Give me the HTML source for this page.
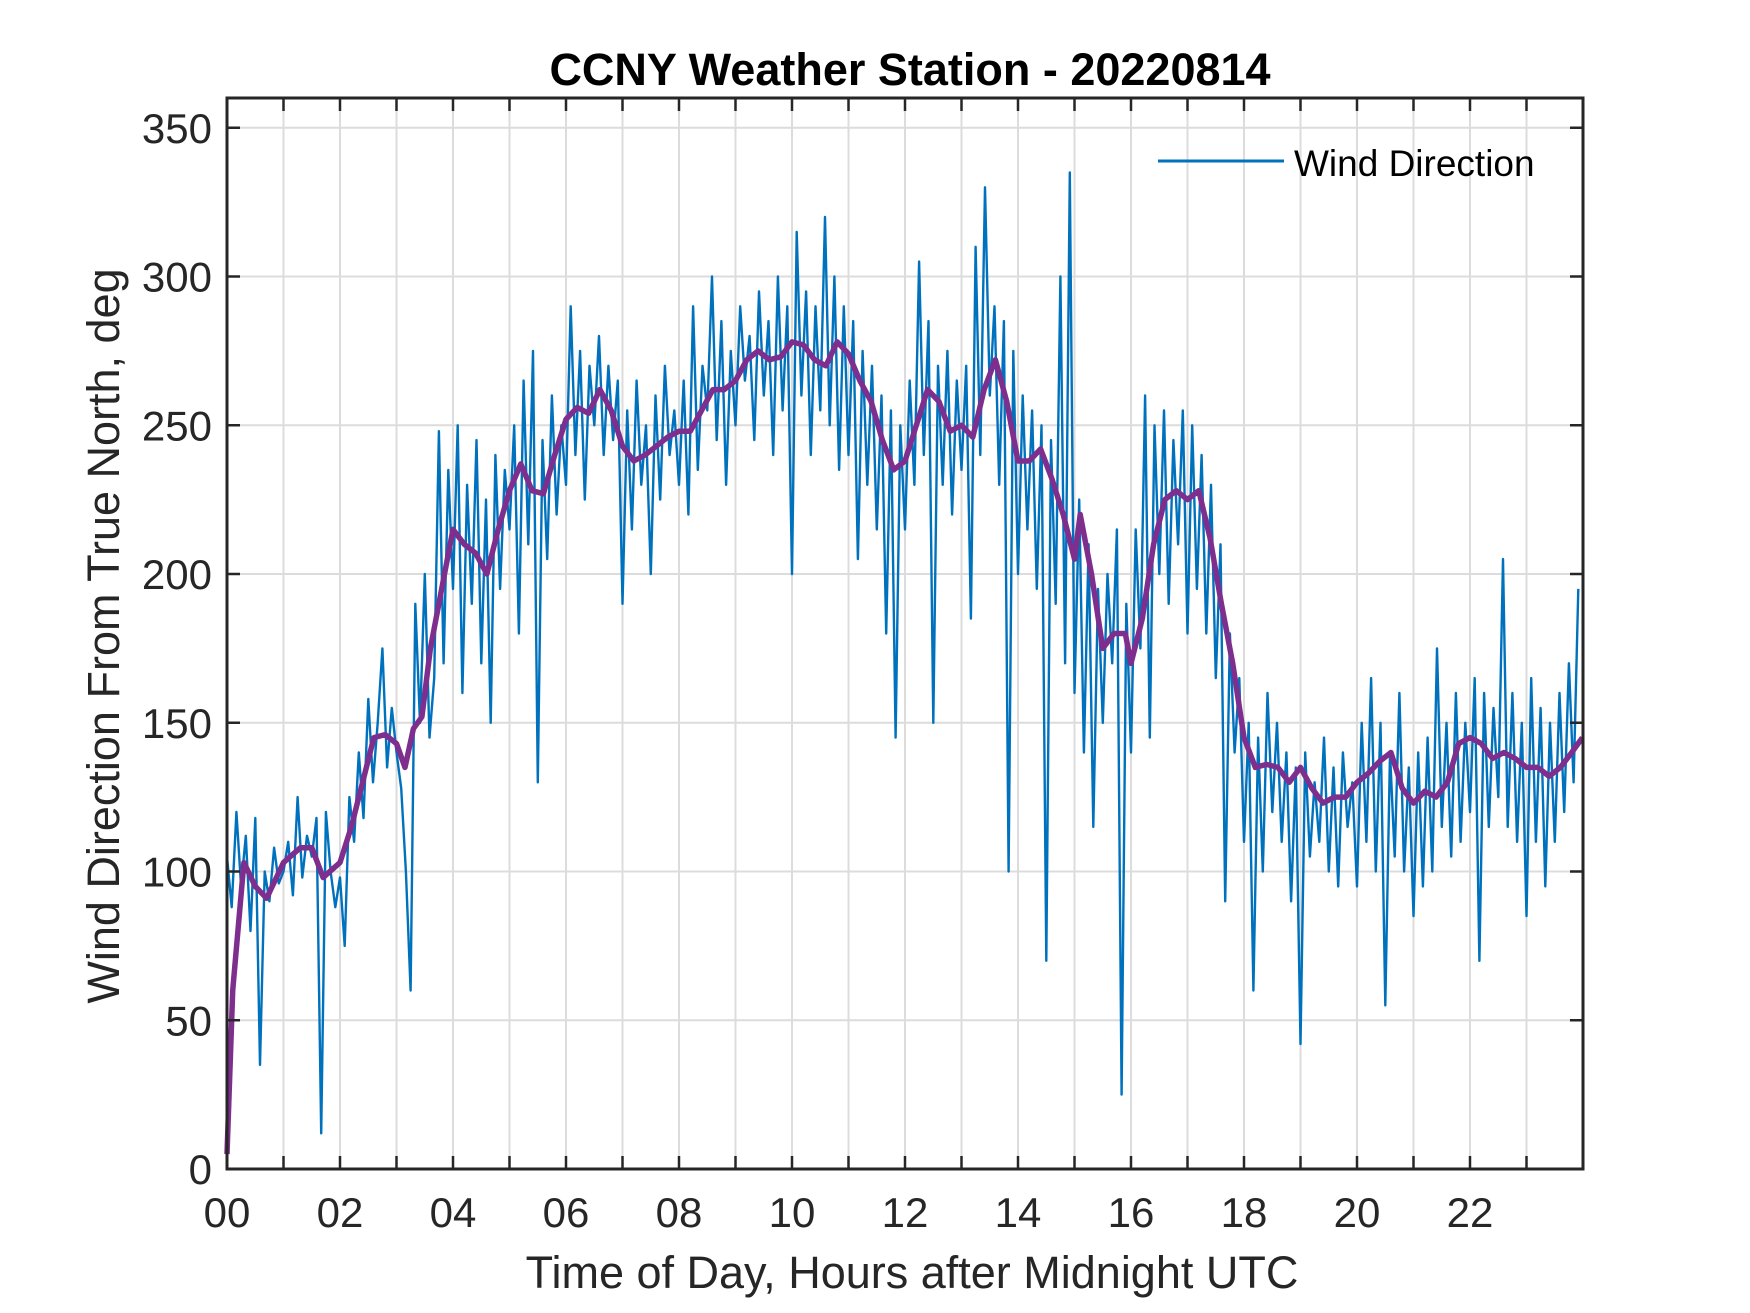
<!DOCTYPE html>
<html><head><meta charset="utf-8"><style>
html,body{margin:0;padding:0;background:#fff;}
svg{display:block;font-family:"Liberation Sans",Arial,sans-serif;}
</style></head><body>
<svg id="chart" width="1750" height="1313" viewBox="0 0 1750 1313" xmlns="http://www.w3.org/2000/svg">
<rect width="1750" height="1313" fill="#fff"/>
<g id="grid"></g>
<g id="series"></g>
<g id="axes"></g>
<text x="910" y="85" text-anchor="middle" font-size="45" font-weight="bold" fill="#000">CCNY Weather Station - 20220814</text>
<text x="912" y="1288" text-anchor="middle" font-size="45" fill="#262626">Time of Day, Hours after Midnight UTC</text>
<text transform="translate(119,636) rotate(-90)" text-anchor="middle" font-size="45" fill="#262626">Wind Direction From True North, deg</text>
<g>
<line x1="1158" y1="161" x2="1284" y2="161" stroke="#0072BD" stroke-width="3"/>
<text x="1294" y="176" font-size="37" fill="#000">Wind Direction</text>
</g>
</svg>
<script>
const xTickHours = [0,2,4,6,8,10,12,14,16,18,20,22];
const xTickLabels = ["00","02","04","06","08","10","12","14","16","18","20","22"];
const yTicks = [0,50,100,150,200,250,300,350];
// wind direction, one value every 5 minutes
const windDir = [
105,88,120,95,112,80,118,35,100,90,108,96,
100,110,92,125,98,112,105,118,12,120,100,88,
98,75,125,110,140,118,158,130,150,175,135,155,
140,128,100,60,190,150,200,145,165,248,170,235,
195,250,160,230,190,245,170,225,150,240,195,235,
215,250,180,265,210,275,130,245,205,260,220,250,
230,290,240,275,225,270,250,280,240,270,245,265,
190,255,215,265,230,250,200,260,225,270,240,255,
230,265,220,290,235,270,255,300,245,285,230,275,
250,290,265,280,245,295,260,285,240,300,255,290,
200,315,260,295,240,290,255,320,250,300,235,290,
240,285,205,275,230,270,215,260,180,255,145,250,
215,265,230,305,240,285,150,270,230,275,220,265,
235,270,185,310,240,330,260,290,230,285,100,275,
200,260,215,255,195,250,70,245,190,300,170,335,
160,225,140,210,115,195,150,200,170,215,25,190,
140,215,175,260,145,250,200,255,190,245,210,255,
180,250,195,240,180,230,165,210,90,180,140,165,
110,150,60,145,100,160,120,150,110,140,90,135,
42,140,105,130,110,145,100,135,95,140,115,130,
95,150,110,165,100,150,55,140,105,160,100,135,
85,140,95,145,100,175,115,150,105,160,110,150,
120,165,70,160,115,155,125,205,115,160,110,150,
85,165,110,155,95,150,110,160,120,170,130,195
];
const avgHours = [0,0.1,0.3,0.5,0.7,1.0,1.3,1.5,1.7,2.0,2.2,2.4,2.6,2.8,3.0,3.15,3.3,3.45,3.6,3.8,4.0,4.2,4.4,4.6,4.8,5.0,5.2,5.4,5.6,5.8,6.0,6.2,6.4,6.6,6.8,7.0,7.2,7.4,7.6,7.8,8.0,8.2,8.4,8.6,8.8,9.0,9.2,9.4,9.6,9.8,10.0,10.2,10.4,10.6,10.8,11.0,11.2,11.4,11.6,11.8,12.0,12.2,12.4,12.6,12.8,13.0,13.2,13.4,13.6,13.8,14.0,14.2,14.4,14.6,14.8,15.0,15.1,15.3,15.5,15.7,15.9,16.0,16.2,16.4,16.6,16.8,17.0,17.2,17.4,17.6,17.8,18.0,18.2,18.4,18.6,18.8,19.0,19.2,19.4,19.6,19.8,20.0,20.2,20.4,20.6,20.8,21.0,21.2,21.4,21.6,21.8,22.0,22.2,22.4,22.6,22.8,23.0,23.2,23.4,23.6,23.8,23.99];
const avgDir = [5,60,103,95,91,103,108,108,98,103,115,130,145,146,143,135,148,152,175,195,215,210,207,200,215,228,237,228,227,240,252,256,254,262,255,243,238,240,243,246,248,248,255,262,262,265,272,275,272,273,278,277,272,270,278,274,265,258,245,235,238,250,262,258,248,250,246,262,272,258,238,238,242,232,220,205,220,200,175,180,180,170,185,210,225,228,225,228,212,190,170,145,135,136,135,130,135,128,123,125,125,130,133,137,140,128,123,127,125,130,143,145,143,138,140,138,135,135,132,135,140,145];

const L=227,R=1583,T=98,B=1169;
const xS=h=>L+h/24*(R-L);
const yS=v=>B-v/360*(B-T);
const NS="http://www.w3.org/2000/svg";
function mk(tag,attrs,parent){const e=document.createElementNS(NS,tag);for(const k in attrs)e.setAttribute(k,attrs[k]);parent.appendChild(e);return e;}
const grid=document.getElementById('grid'),axes=document.getElementById('axes'),series=document.getElementById('series');
for(let h=1;h<24;h++){
  const g=mk('line',{x1:xS(h),x2:xS(h),y1:T,y2:B,stroke:'#dcdcdc','stroke-width':2},grid);
  
  
  for(const [a,b] of [[B,B-13],[T,T+13]]){
    const t=mk('line',{x1:xS(h),x2:xS(h),y1:a,y2:b,stroke:'#262626','stroke-width':2.5},axes);
    
    
  }
}
yTicks.forEach(v=>{
  if(v>0){const g=mk('line',{x1:L,x2:R,y1:yS(v),y2:yS(v),stroke:'#dcdcdc','stroke-width':2},grid);
  
  }
  for(const [a,b] of [[L,L+13],[R,R-13]]){
    const t=mk('line',{x1:a,x2:b,y1:yS(v),y2:yS(v),stroke:'#262626','stroke-width':2.5},axes);
    
    
  }
  const tl=mk('text',{x:212,y:yS(v)+15,'text-anchor':'end','font-size':42,fill:'#262626'},axes);
  tl.textContent=v;
  
  
});
xTickHours.forEach((h,i)=>{
  const tl=mk('text',{x:xS(h),y:1227,'text-anchor':'middle','font-size':42,fill:'#262626'},axes);
  tl.textContent=xTickLabels[i];
  
  
});
const box=mk('rect',{x:L,y:T,width:R-L,height:B-T,fill:'none',stroke:'#262626','stroke-width':3},axes);


const p1=mk('polyline',{points:windDir.map((v,i)=>xS(i*5/60).toFixed(1)+','+yS(v).toFixed(1)).join(' '),fill:'none',stroke:'#0072BD','stroke-width':2.4,'stroke-linejoin':'round'},series);


const p2=mk('polyline',{points:avgHours.map((h,i)=>xS(h).toFixed(1)+','+yS(avgDir[i]).toFixed(1)).join(' '),fill:'none',stroke:'#7E2F8E','stroke-width':5.5,'stroke-linejoin':'round'},series);


</script>
</body></html>
